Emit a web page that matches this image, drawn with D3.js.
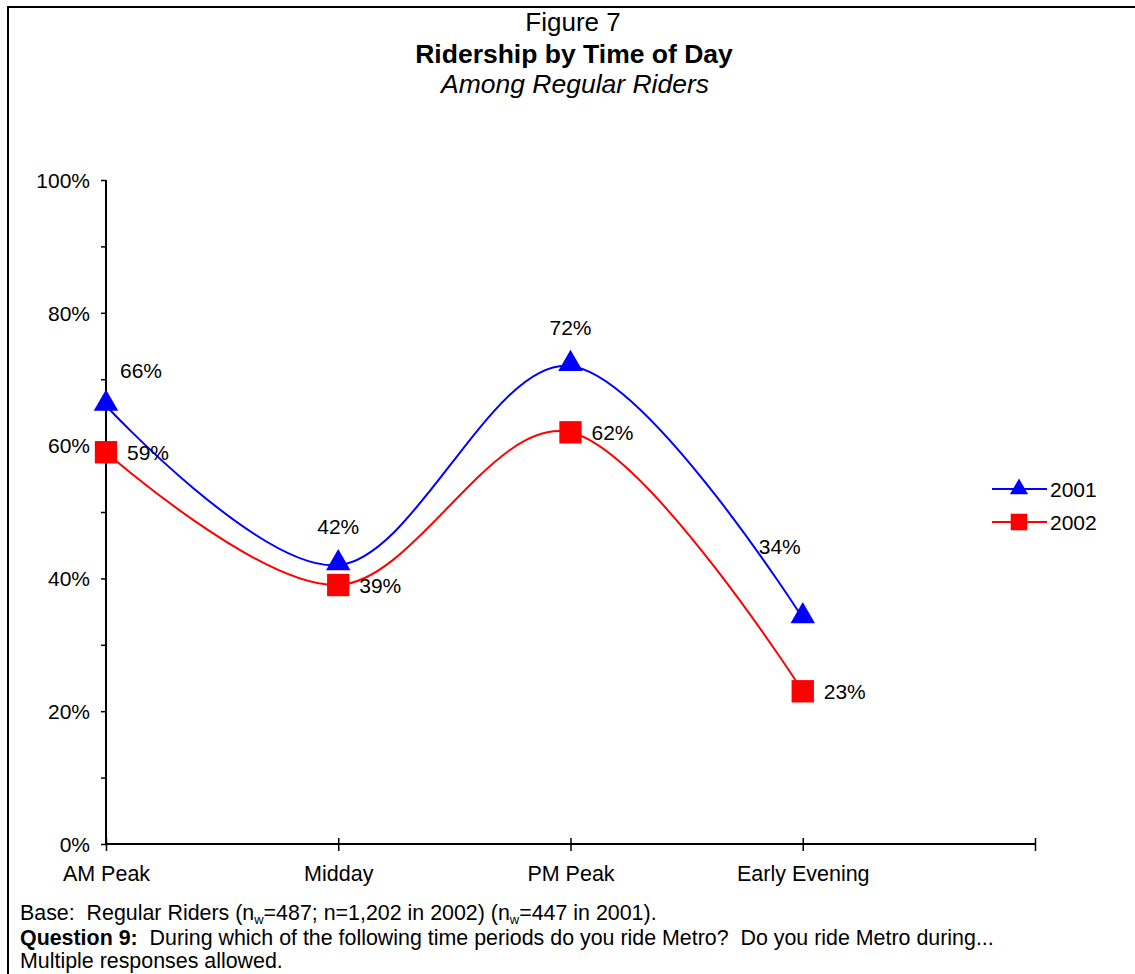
<!DOCTYPE html>
<html>
<head>
<meta charset="utf-8">
<script src="https://cdn.jsdelivr.net/npm/d3@7"></script>
<style>
  body { margin: 0; background: #fff; }
  svg { font-family: "Liberation Sans", Arial, sans-serif; }
  text { white-space: pre; }
</style>
</head>
<body>
<div id="chart"></div>
<script>
// data
var categories = ['AM Peak', 'Midday', 'PM Peak', 'Early Evening']
var years = ['2001', '2002']
var values2001 = [66, 42, 72, 34]
var values2002 = [59, 39, 62, 23]
var yTicks = [0, 20, 40, 60, 80, 100]

// label offsets (dx, dy) for the 2001 labels, set by hand like in the original
var labelOffsets2001 = [[35, -28], [0, -31], [0, -31], [-23, -64]]

var width = 1135, height = 974
var svg = d3.select('#chart').append('svg').attr('width', width).attr('height', height)

// frame
svg.append('path').attr('d', 'M8,' + (height + 2) + 'V7H' + (width + 2))
  .attr('fill', 'none').attr('stroke', '#000').attr('stroke-width', 2)

// titles
svg.append('text').attr('x', 573).attr('y', 31).attr('text-anchor', 'middle')
  .style('font-size', '26px').text('Figure 7')
svg.append('text').attr('x', 574).attr('y', 63).attr('text-anchor', 'middle')
  .style('font-size', '26.5px').style('font-weight', 'bold').text('Ridership by Time of Day')
svg.append('text').attr('x', 575).attr('y', 93).attr('text-anchor', 'middle')
  .style('font-size', '26.5px').style('font-style', 'italic').text('Among Regular Riders')

var x = d3.scaleLinear().domain([0, categories.length]).range([106, 1035])
var y = d3.scaleLinear().domain([0, 100]).range([844, 180])

// y axis
var yAxis = d3.axisLeft(y).tickValues(d3.range(0, 101, 10)).tickSize(5)
  .tickFormat(function(d) { return yTicks.indexOf(d) >= 0 ? d + '%' : '' })
var gy = svg.append('g').attr('transform', 'translate(' + x(0) + ',0)').call(yAxis)
gy.select('.domain').attr('stroke-width', 2).attr('d', 'M0,' + y(100) + 'V' + y(0))
gy.selectAll('.tick line').attr('stroke-width', 1.5)
gy.selectAll('.tick text').attr('x', -16).attr('dy', '0.35em')
  .style('font-size', '21px').attr('fill', '#000').style('font-family', '"Liberation Sans", Arial, sans-serif')

// x axis
var xAxis = d3.axisBottom(x).tickValues(d3.range(0, categories.length + 1)).tickSize(0)
  .tickFormat(function(d) { return categories[d] || '' })
var gx = svg.append('g').attr('transform', 'translate(0,' + y(0) + ')').call(xAxis)
gx.select('.domain').attr('stroke-width', 2).attr('d', 'M' + x(0) + ',0H' + x(categories.length))
gx.selectAll('.tick').append('line').attr('y1', -6).attr('y2', 7).attr('stroke', '#000').attr('stroke-width', 1.5)
gx.selectAll('.tick text').attr('y', 37).attr('dy', 0)
  .style('font-size', '21.5px').attr('fill', '#000').style('font-family', '"Liberation Sans", Arial, sans-serif')

var line = d3.line()
  .x(function(d, i) { return x(i) })
  .y(function(d) { return y(d) })
  .curve(d3.curveCardinal.tension(0))

var series = [
  {name: years[0], values: values2001, color: '#0000ff', marker: d3.symbolTriangle, size: 260},
  {name: years[1], values: values2002, color: '#ff0000', marker: d3.symbolSquare, size: 500}
]

series.forEach(function(s) {
  svg.append('path').datum(s.values).attr('d', line)
    .attr('fill', 'none').attr('stroke', s.color).attr('stroke-width', 2)
})

series.forEach(function(s, k) {
  var sym = d3.symbol().type(s.marker).size(s.size)
  svg.selectAll('.m' + k).data(s.values).enter().append('path')
    .attr('transform', function(d, i) { return 'translate(' + x(i) + ',' + (y(d) + (k === 0 ? -2 : 0)) + ')' })
    .attr('d', sym).attr('fill', s.color)
})

// data labels
svg.selectAll('.lab2001').data(values2001).enter().append('text')
  .attr('x', function(d, i) { return x(i) + labelOffsets2001[i][0] })
  .attr('y', function(d, i) { return y(d) + labelOffsets2001[i][1] })
  .attr('text-anchor', 'middle').style('font-size', '21px')
  .text(function(d) { return d + '%' })

svg.selectAll('.lab2002').data(values2002).enter().append('text')
  .attr('x', function(d, i) { return x(i) + 21 })
  .attr('y', function(d) { return y(d) + 8 })
  .style('font-size', '21px')
  .text(function(d) { return d + '%' })

// legend
var legend = svg.selectAll('.legend').data(series).enter().append('g')
  .attr('transform', function(d, i) { return 'translate(992,' + (489 + i * 33) + ')' })
legend.append('line').attr('x1', 0).attr('x2', 55).attr('stroke', function(d) { return d.color }).attr('stroke-width', 2)
legend.append('path').attr('transform', 'translate(27,0)')
  .attr('d', function(d) { return d3.symbol().type(d.marker).size(d.size * 0.55)() })
  .attr('fill', function(d) { return d.color })
legend.append('text').attr('x', 58).attr('y', 8).style('font-size', '21px').text(function(d) { return d.name })

// footer
var foot = svg.append('text').attr('x', 20).attr('y', 920).style('font-size', '21.4px')
foot.append('tspan').text('Base:  Regular Riders (n')
foot.append('tspan').attr('dy', 4).style('font-size', '13px').text('w')
foot.append('tspan').attr('dy', -4).text('=487; n=1,202 in 2002) (n')
foot.append('tspan').attr('dy', 4).style('font-size', '13px').text('w')
foot.append('tspan').attr('dy', -4).text('=447 in 2001).')

var q = svg.append('text').attr('x', 20).attr('y', 945).style('font-size', '21.4px')
q.append('tspan').style('font-weight', 'bold').text('Question 9:')
q.append('tspan').text('  During which of the following time periods do you ride Metro?  Do you ride Metro during...')
svg.append('text').attr('x', 20).attr('y', 968).style('font-size', '21.4px').text('Multiple responses allowed.')
</script>
</body>
</html>
